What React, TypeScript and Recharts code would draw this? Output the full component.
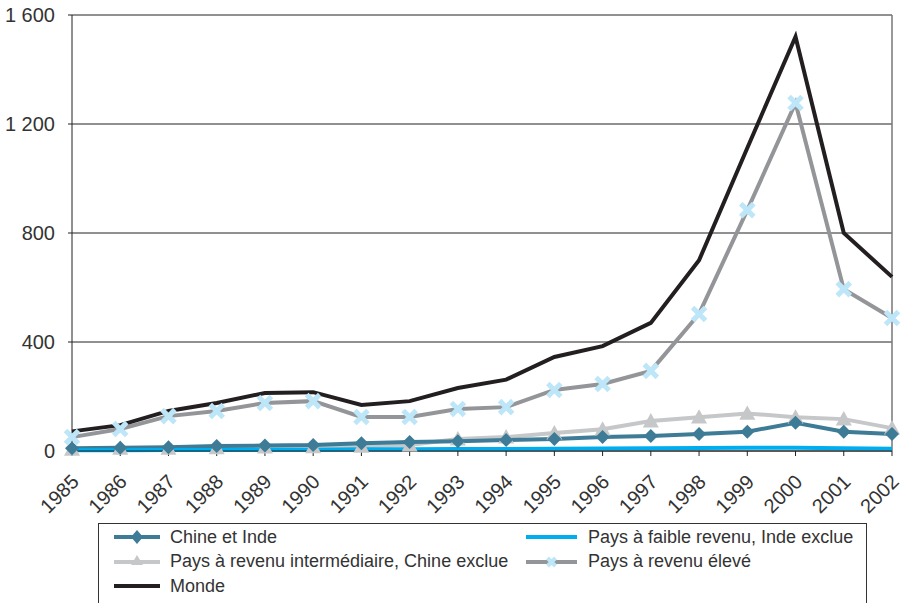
import React from "react";
import { LineChart, Line, XAxis, YAxis, CartesianGrid, ReferenceLine } from "recharts";

const years = ["1985", "1986", "1987", "1988", "1989", "1990", "1991", "1992", "1993", "1994", "1995", "1996", "1997", "1998", "1999", "2000", "2001", "2002"];
const chineInde = [10, 12, 14, 18, 20, 22, 28, 33, 36, 40, 44, 51, 55, 62, 71, 104, 71, 62];
const faibleRevenu = [3, 3, 4, 4, 5, 5, 6, 6, 7, 7, 8, 9, 10, 11, 12, 12, 10, 8];
const intermediaire = [6, 10, 10, 12, 14, 15, 17, 22, 44, 51, 66, 80, 110, 124, 138, 124, 117, 84];
const eleve = [51, 81, 128, 147, 176, 183, 125, 125, 154, 161, 224, 246, 294, 503, 884, 1277, 594, 488];
const monde = [72, 95, 147, 176, 213, 216, 169, 183, 231, 262, 345, 385, 470, 700, 1112, 1520, 800, 639];
const yTicks = [0, 400, 800, 1200, 1600];

const data = years.map((y, i) => ({
  year: y,
  chine: chineInde[i],
  faible: faibleRevenu[i],
  inter: intermediaire[i],
  eleve: eleve[i],
  monde: monde[i],
}));

const FONT = "'Liberation Sans', Arial, sans-serif";
const C_TEAL = "#3d7b96";
const C_BLUE = "#00aeef";
const C_LGREY = "#c6c7c9";
const C_GREY = "#939598";
const C_XBLUE = "#bde6f8";
const C_BLACK = "#231f20";

function Diamond({ cx, cy }: any) {
  if (cx == null || cy == null) return null;
  const s = 7;
  return <path d={`M${cx},${cy - s}L${cx + s},${cy}L${cx},${cy + s}L${cx - s},${cy}Z`} fill={C_TEAL} />;
}

function Triangle({ cx, cy }: any) {
  if (cx == null || cy == null) return null;
  const s = 8;
  return <path d={`M${cx},${cy - s}L${cx + s},${cy + s * 0.8}L${cx - s},${cy + s * 0.8}Z`} fill={C_LGREY} />;
}

function Cross({ cx, cy }: any) {
  if (cx == null || cy == null) return null;
  const s = 6.5;
  return (
    <path d={`M${cx - s},${cy - s}L${cx + s},${cy + s}M${cx - s},${cy + s}L${cx + s},${cy - s}`}
      stroke={C_XBLUE} strokeWidth={5} fill="none" />
  );
}

function YearTick({ x, y, payload }: any) {
  const ax = x + 8;
  const ay = y + 25;
  return (
    <text x={ax} y={ay} transform={`rotate(-45, ${ax}, ${ay})`} textAnchor="end"
      fill="#333" fontSize={20} fontFamily={FONT}>
      {payload.value}
    </text>
  );
}

function LegendItem({ color, marker, label, len, gap }: { color: string; marker?: string; label: string; len: number; gap: number }) {
  const m = len / 2 + 1;
  return (
    <div style={{ display: "flex", alignItems: "center", height: 24.5 }}>
      <svg width={len + 2} height={20} style={{ marginRight: gap, flex: "none" }}>
        <line x1={1} y1={10} x2={len + 1} y2={10} stroke={color} strokeWidth={4} />
        {marker === "diamond" && <path d={`M${m},3L${m + 6},10L${m},17L${m - 6},10Z`} fill={C_TEAL} />}
        {marker === "triangle" && <path d={`M${m},3L${m + 6},13L${m - 6},13Z`} fill={C_LGREY} />}
        {marker === "cross" && (
          <path d={`M${m - 4},6L${m + 4},14M${m - 4},14L${m + 4},6`} stroke={C_XBLUE} strokeWidth={4} />
        )}
      </svg>
      <span style={{ fontFamily: FONT, fontSize: 18, color: "#333", whiteSpace: "nowrap" }}>{label}</span>
    </div>
  );
}

export default function App() {
  return (
    <div style={{ position: "fixed", left: 0, top: 0, width: 902, height: 603, background: "#fff", overflow: "hidden" }}>
      <LineChart width={902} height={603} data={data} margin={{ top: 15, right: 10, left: 0, bottom: 0 }}>
        <CartesianGrid horizontal vertical={false} stroke="#222" strokeWidth={1} />
        <XAxis dataKey="year" height={152} tick={<YearTick />} interval={0}
          axisLine={{ stroke: "#222" }} tickLine={{ stroke: "#222" }} tickSize={5} padding={{ left: 0, right: 0 }} />
        <YAxis width={72} domain={[0, 1600]} ticks={yTicks} interval={0}
          tickFormatter={(v: number) => (v >= 1000 ? `${Math.floor(v / 1000)}\u00a0${String(v % 1000).padStart(3, "0")}` : String(v))}
          tick={{ fill: "#333", fontSize: 20, fontFamily: FONT }} axisLine={{ stroke: "#222" }}
          tickLine={{ stroke: "#222" }} tickSize={4} tickMargin={13} />
        <ReferenceLine x="2002" stroke="#777" strokeWidth={1.5} />
        <Line dataKey="inter" stroke={C_LGREY} strokeWidth={4} dot={<Triangle />} activeDot={false} isAnimationActive={false} />
        <Line dataKey="chine" stroke={C_TEAL} strokeWidth={4} dot={<Diamond />} activeDot={false} isAnimationActive={false} />
        <Line dataKey="faible" stroke={C_BLUE} strokeWidth={4} dot={false} activeDot={false} isAnimationActive={false} />
        <Line dataKey="eleve" stroke={C_GREY} strokeWidth={4} dot={<Cross />} activeDot={false} isAnimationActive={false} />
        <Line dataKey="monde" stroke={C_BLACK} strokeWidth={4} dot={false} activeDot={false} isAnimationActive={false} />
      </LineChart>
      <div style={{ position: "absolute", left: 98, top: 523, width: 769, height: 100, border: "1.5px solid #333", boxSizing: "border-box" }}>
        <div style={{ position: "absolute", left: 14, top: 1 }}>
          <LegendItem color={C_TEAL} marker="diamond" label="Chine et Inde" len={46} gap={9} />
          <LegendItem color={C_LGREY} marker="triangle" label="Pays à revenu intermédiaire, Chine exclue" len={46} gap={9} />
          <LegendItem color={C_BLACK} label="Monde" len={46} gap={9} />
        </div>
        <div style={{ position: "absolute", left: 426, top: 1 }}>
          <LegendItem color={C_BLUE} label="Pays à faible revenu, Inde exclue" len={51} gap={10} />
          <LegendItem color={C_GREY} marker="cross" label="Pays à revenu élevé" len={51} gap={10} />
        </div>
      </div>
    </div>
  );
}
